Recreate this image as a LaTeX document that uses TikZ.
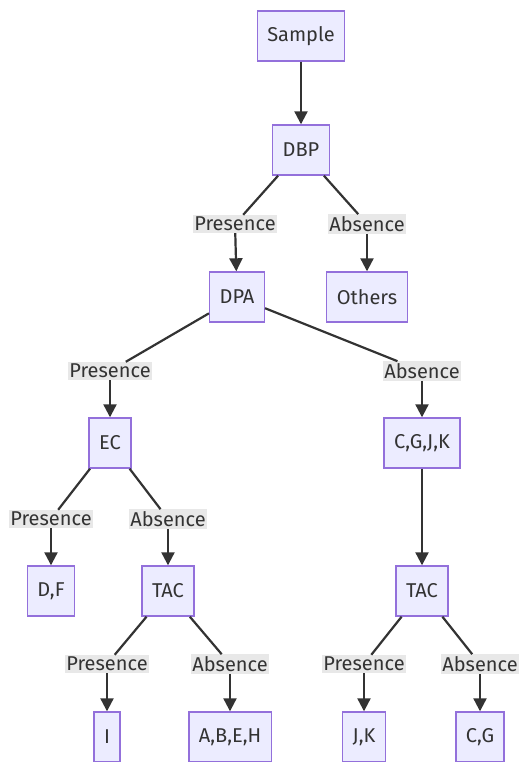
\documentclass[tikz,border=0pt]{standalone}
\usepackage{fontspec}
\setmainfont{Fira Sans}
\usetikzlibrary{arrows.meta}

\definecolor{boxfill}{HTML}{ECECFF}
\definecolor{boxline}{HTML}{9370DB}
\definecolor{ink}{HTML}{333333}
\definecolor{lblfill}{HTML}{E8E8E8}

\begin{document}
\begin{tikzpicture}[x=1pt, y=-1pt,
  box/.style={draw=boxline, fill=boxfill, line width=1.4pt, rectangle, minimum height=50pt, inner xsep=10pt, text=ink, font=\fontsize{20}{22}\selectfont},
  lbl/.style={fill=lblfill, rectangle, inner xsep=1.5pt, inner ysep=2pt, text=ink, font=\fontsize{20}{22}\selectfont},
  edge/.style={draw=ink, line width=2.2pt},
  arr/.style={edge, -{Triangle[length=13pt,width=13pt]}}]
\useasboundingbox (0,0) rectangle (520,762);

% nodes
\node[box] (sample) at (301,36) {Sample};
\node[box] (dbp) at (301,150) {DBP};
\node[box] (dpa) at (237,297) {DPA};
\node[box] (others) at (367,297) {Others};
\node[box] (ec) at (110,443) {EC};
\node[box] (cgjk) at (422,443) {C,G,J,K};
\node[box] (df) at (51,591) {D,F};
\node[box] (tacl) at (168,591) {TAC};
\node[box] (tacr) at (422,591) {TAC};
\node[box] (i) at (107,737) {I};
\node[box] (abeh) at (230,737) {A,B,E,H};
\node[box] (jk) at (364,737) {J,K};
\node[box] (cg) at (480,737) {C,G};

% edge labels
\node[lbl] (dbpyes) at (235,224) {Presence};
\node[lbl] (dbpno) at (367,224) {Absence};
\node[lbl] (dpayes) at (110,371) {Presence};
\node[lbl] (dpano) at (422,371) {Absence};
\node[lbl] (ecyes) at (51,519) {Presence};
\node[lbl] (ecno) at (168,519) {Absence};
\node[lbl] (taclyes) at (107,664) {Presence};
\node[lbl] (taclno) at (230,664) {Absence};
\node[lbl] (tacryes) at (364,664) {Presence};
\node[lbl] (tacrno) at (480,664) {Absence};

% edges
\draw[arr] (sample) -- (dbp);
\draw[edge] (dbp) -- (dbpyes);
\draw[arr] (dbpyes) -- (dpa);
\draw[edge] (dbp) -- (dbpno);
\draw[arr] (dbpno) -- (others);
\draw[edge] (dpa) -- (dpayes);
\draw[arr] (dpayes) -- (ec);
\draw[edge] (dpa) -- (dpano);
\draw[arr] (dpano) -- (cgjk);
\draw[edge] (ec) -- (ecyes);
\draw[arr] (ecyes) -- (df);
\draw[edge] (ec) -- (ecno);
\draw[arr] (ecno) -- (tacl);
\draw[arr] (cgjk) -- (tacr);
\draw[edge] (tacl) -- (taclyes);
\draw[arr] (taclyes) -- (i);
\draw[edge] (tacl) -- (taclno);
\draw[arr] (taclno) -- (abeh);
\draw[edge] (tacr) -- (tacryes);
\draw[arr] (tacryes) -- (jk);
\draw[edge] (tacr) -- (tacrno);
\draw[arr] (tacrno) -- (cg);
\end{tikzpicture}
\end{document}
